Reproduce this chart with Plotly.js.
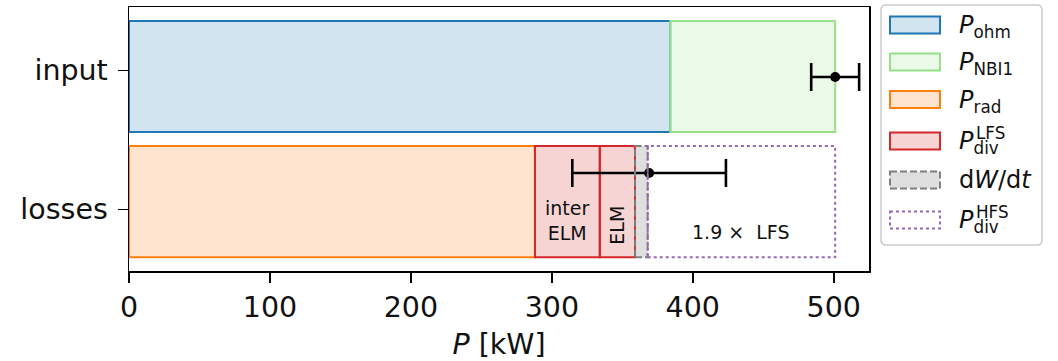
<!DOCTYPE html>
<html>
<head>
<meta charset="utf-8">
<script src="https://cdn.plot.ly/plotly-3.0.1.min.js"></script>
<style>html,body{margin:0;padding:0;background:#fff}#chart{width:1058px;height:361px}</style>
</head>
<body>
<div id="chart"></div>
<script>
// ---- data (kW) ----
const categories = ['losses', 'input'];
const categoryTicks = [0, 1];
const inputBarY = 0.955;
const lossesBarY = 0.055;

const inputNames = ['P_ohm', 'P_NBI1'];
const inputValues = [384, 117];
const inputTotal = [501];
const inputErr = [17];
const inputErrY = [0.952];

const lossNames = ['P_rad', 'P_div^LFS inter-ELM', 'P_div^LFS ELM', 'dW/dt', 'P_div^HFS'];
const lossValues = [288, 46, 25, 9, 133];
const lossTotal = [369];
const lossErr = [54.5];
const lossErrY = [0.261];

const legendLabels = ['<i>P</i><sub>ohm</sub>', '<i>P</i><sub>NBI1</sub>', '<i>P</i><sub>rad</sub>',
  '<i>P</i><sub>div</sub>', 'd<i>W</i>/d<i>t</i>', '<i>P</i><sub>div</sub>'];
const legendSup = ['', '', '', 'LFS', '', 'HFS'];
const xTicks = [0, 100, 200, 300, 400, 500];

// ---- styles ----
const FONT = 'DejaVu Sans, sans-serif';
const C = {
  ohm: {fill: 'rgba(31,119,180,0.2)', line: '#1f77b4', dash: 'solid'},
  nbi: {fill: 'rgba(152,223,138,0.2)', line: '#98df8a', dash: 'solid'},
  rad: {fill: 'rgba(255,127,14,0.2)', line: '#ff7f0e', dash: 'solid'},
  lfs: {fill: 'rgba(214,39,40,0.2)', line: '#d62728', dash: 'solid'},
  dw:  {fill: 'rgba(127,127,127,0.25)', line: '#7f7f7f', dash: '7px,3px'},
  hfs: {fill: 'rgba(0,0,0,0)', line: '#9467bd', dash: 'dot'}
};
const BW = 0.8;

function cumBase(vals) { const b = []; let s = 0; vals.forEach(v => { b.push(s); s += v; }); return b; }
const inBase = cumBase(inputValues);
const lsBase = cumBase(lossValues);

const traces = [];
const shapes = [];
const annotations = [];

function addBar(y, base, val, st, dashed) {
  traces.push({
    type: 'bar', orientation: 'h', y: [y], x: [val], base: [base], width: BW,
    marker: {color: st.fill, line: {color: st.line, width: dashed ? 0 : 2}},
    hoverinfo: 'skip', showlegend: false
  });
  if (dashed) {
    shapes.push({type: 'rect', xref: 'x', yref: 'y', x0: base, x1: base + val,
      y0: y - BW / 2, y1: y + BW / 2, line: {color: st.line, width: 2, dash: st.dash},
      fillcolor: 'rgba(0,0,0,0)', layer: 'above'});
  }
}
addBar(inputBarY, inBase[0], inputValues[0], C.ohm, false);
addBar(inputBarY, inBase[1], inputValues[1], C.nbi, false);
addBar(lossesBarY, lsBase[0], lossValues[0], C.rad, false);
addBar(lossesBarY, lsBase[1], lossValues[1], C.lfs, false);
addBar(lossesBarY, lsBase[2], lossValues[2], C.lfs, false);
addBar(lossesBarY, lsBase[3], lossValues[3], C.dw, true);
addBar(lossesBarY, lsBase[4], lossValues[4], C.hfs, true);

function addErr(x, y, e) {
  traces.push({type: 'scatter', mode: 'markers', x: x, y: y,
    marker: {color: 'black', size: 10},
    error_x: {type: 'data', array: e, color: 'black', thickness: 2.6, width: 14},
    hoverinfo: 'skip', showlegend: false});
}
addErr(inputTotal, inputErrY, inputErr);
addErr(lossTotal, lossErrY, lossErr);

// in-bar labels
annotations.push({xref: 'x', yref: 'y', x: lsBase[1] + lossValues[1] / 2, y: lossesBarY - 0.135,
  text: 'inter<br>ELM', showarrow: false, font: {family: FONT, size: 19, color: '#111'}});
annotations.push({xref: 'x', yref: 'y', x: lsBase[2] + lossValues[2] / 2, y: lossesBarY - 0.17,
  text: 'ELM', textangle: -90, showarrow: false, font: {family: FONT, size: 19, color: '#111'}});
annotations.push({xref: 'x', yref: 'y', x: lsBase[4] + lossValues[4] / 2, y: lossesBarY - 0.218,
  text: '1.9 ×&nbsp; LFS', showarrow: false, font: {family: FONT, size: 19, color: '#111'}});

// ---- custom legend (pixel helpers) ----
const L = 129, R = 869, T = 7, B = 271;
const W = R - L, H = B - T;
const px = x => (x - L) / W;
const py = y => (B - y) / H;

(function () {
  const x0 = 881, x1 = 1042, y0 = 5, y1 = 245, r = 5;
  const path = [
    'M', px(x0 + r), py(y0), 'L', px(x1 - r), py(y0),
    'Q', px(x1), py(y0), px(x1), py(y0 + r),
    'L', px(x1), py(y1 - r), 'Q', px(x1), py(y1), px(x1 - r), py(y1),
    'L', px(x0 + r), py(y1), 'Q', px(x0), py(y1), px(x0), py(y1 - r),
    'L', px(x0), py(y0 + r), 'Q', px(x0), py(y0), px(x0 + r), py(y0), 'Z'
  ].join(' ');
  shapes.push({type: 'path', xref: 'paper', yref: 'paper', path: path,
    line: {color: '#cccccc', width: 1.5}, fillcolor: 'rgba(255,255,255,0.8)', layer: 'above'});
})();

const legendStyles = [C.ohm, C.nbi, C.rad, C.lfs, C.dw, C.hfs];
const legendY = [25, 62, 99.5, 141, 180, 220];
legendStyles.forEach((st, i) => {
  const cy = legendY[i];
  shapes.push({type: 'rect', xref: 'paper', yref: 'paper',
    x0: px(890), x1: px(940), y0: py(cy - 8.5), y1: py(cy + 8.5),
    fillcolor: st.fill, line: {color: st.line, width: 2, dash: st.dash}, layer: 'above'});
  annotations.push({xref: 'paper', yref: 'paper', x: px(957), y: py(cy + (legendLabels[i].includes('<sub>') ? 1.5 : 0)),
    xanchor: 'left', yanchor: 'middle', showarrow: false, text: legendLabels[i],
    font: {family: FONT, size: 24, color: '#111'}});
  if (legendSup[i]) {
    annotations.push({xref: 'paper', yref: 'paper', x: px(974), y: py(cy - 8.5),
      xanchor: 'left', yanchor: 'middle', showarrow: false, text: legendSup[i],
      font: {family: FONT, size: 16.8, color: '#111'}});
  }
});

const axisCommon = {
  showline: true, mirror: true, linecolor: 'black', linewidth: 1.5,
  ticks: 'outside', ticklen: 10, tickwidth: 1.5, tickcolor: 'black',
  showgrid: false, zeroline: false, fixedrange: true,
  tickfont: {family: FONT, size: 28.5, color: '#111'}
};

const layout = {
  width: 1058, height: 361,
  margin: {l: 129, r: 189, t: 7, b: 90},
  paper_bgcolor: 'white', plot_bgcolor: 'white',
  barmode: 'overlay', showlegend: false,
  xaxis: Object.assign({}, axisCommon, {
    range: [0, 525], tickvals: xTicks,
    title: {text: '<i>P</i> [kW]', font: {family: FONT, size: 28.5, color: '#111'}, standoff: 13}
  }),
  yaxis: Object.assign({}, axisCommon, {
    range: [-0.444, 1.455], tickvals: categoryTicks, ticktext: categories,
    ticklabelstandoff: 4
  }),
  shapes: shapes,
  annotations: annotations
};

Plotly.newPlot('chart', traces, layout, {displayModeBar: false, staticPlot: true});
</script>
</body>
</html>
